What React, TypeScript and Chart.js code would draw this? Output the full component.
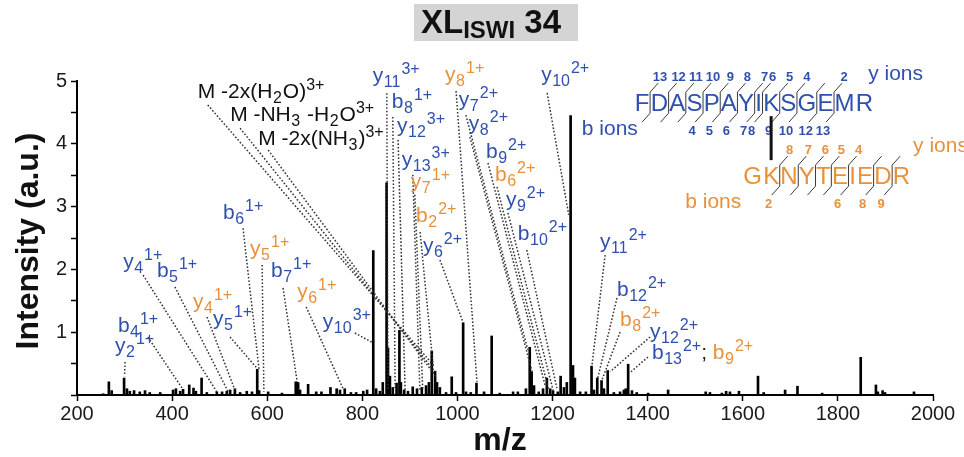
import React, { useEffect, useRef } from "react";
import { Chart, registerables } from "chart.js";

Chart.register(...registerables);

const FONT = "'Liberation Sans', Arial, Helvetica, sans-serif";
const BLUE = "#2f50ae";
const ORANGE = "#e8903a";
const INK = "#111111";

// ---- spectrum data (m/z, intensity a.u.) ----
const mzValues = [
  255, 267, 273, 299, 305, 311, 320, 332, 343, 353, 375, 402, 408, 417, 423, 436, 445, 450, 462, 473,
  494, 505, 515, 522, 532, 543, 557, 568, 579, 583, 602, 631, 660, 665, 669, 686, 703, 714, 733, 746,
  753, 763, 776, 787, 802, 810, 823, 829, 837, 843, 851, 854, 858, 864, 872, 878, 881, 888, 896, 906,
  915, 925, 934, 940, 946, 953, 957, 963, 976, 988, 997, 1012, 1018, 1028, 1040, 1056, 1072, 1089, 1117, 1127,
  1144, 1152, 1156, 1161, 1171, 1180, 1188, 1195, 1201, 1211, 1217, 1224, 1230, 1238, 1243, 1247, 1258, 1270, 1282, 1287,
  1294, 1303, 1308, 1316, 1329, 1342, 1350, 1354, 1359, 1367, 1377, 1401, 1443, 1522, 1531, 1556, 1565, 1573, 1592, 1632,
  1644, 1689, 1715, 1767, 1848, 1880, 1884, 1894, 1899, 1960,
];
const intensities = [
  0.02, 0.21, 0.07, 0.27, 0.1, 0.06, 0.07, 0.05, 0.07, 0.04, 0.04, 0.08, 0.1, 0.06, 0.09, 0.16, 0.11, 0.06, 0.27, 0.04,
  0.05, 0.05, 0.06, 0.08, 0.1, 0.04, 0.06, 0.05, 0.41, 0.07, 0.05, 0.03, 0.21, 0.2, 0.08, 0.17, 0.05, 0.05, 0.12, 0.1,
  0.08, 0.1, 0.04, 0.04, 0.06, 0.08, 2.3, 0.1, 0.06, 0.2, 3.38, 0.75, 0.3, 0.12, 0.19, 1.03, 0.2, 0.08, 0.06, 0.13,
  0.1, 0.12, 0.15, 0.2, 0.7, 0.38, 0.2, 0.12, 0.04, 0.29, 0.04, 1.15, 0.05, 0.04, 0.19, 0.05, 0.94, 0.03, 0.05, 0.05,
  0.1, 0.76, 0.37, 0.15, 0.05, 0.1, 0.27, 0.1, 0.07, 0.05, 0.3, 0.12, 0.2, 4.45, 0.47, 0.27, 0.05, 0.05, 0.46, 0.08,
  0.27, 0.23, 0.1, 0.39, 0.04, 0.05, 0.08, 0.1, 0.49, 0.07, 0.04, 0.03, 0.08, 0.05, 0.04, 0.03, 0.06, 0.05, 0.06, 0.3,
  0.04, 0.08, 0.14, 0.03, 0.6, 0.16, 0.05, 0.07, 0.04, 0.05,
];

const xTickValues = [200, 400, 600, 800, 1000, 1200, 1400, 1600, 1800, 2000];
const yTickValues = [0, 0.5, 1, 1.5, 2, 2.5, 3, 3.5, 4, 4.5, 5];
const yTickLabels = [1, 2, 3, 4, 5];

// ---- peptide sequences ----
const bluePeptide = "FDASPAYIKSGEMR";
const blueMarks = [1, 2, 3, 4, 5, 6, 7, 8, 9, 10, 11, 12];
const blueYIons = [13, 12, 11, 10, 9, 8, 7, 6, 5, 4, 2];
const blueBIons = [
  { n: 4, at: 4 }, { n: 5, at: 5 }, { n: 6, at: 6 }, { n: 7, at: 7 }, { n: 8, at: 8 },
  { n: 9, at: 9 }, { n: 10, at: 10 }, { n: 12, at: 11 }, { n: 13, at: 12 },
];
const orangePeptide = "GKNYTEIEDR";
const orangeMarks = [2, 3, 4, 5, 6, 8, 9];
const orangeYIons = [8, 7, 6, 5, 4];
const orangeBIons = [2, 6, 8, 9];
const crossLinkResidues = [9, 2];
const seqAnchor = [1373, 4.52]; // data coords of blue peptide left/baseline

type Seg = { t: string; k?: "sub" | "sup"; c: string };
const ion = (l: string, sub: string, sup: string, c: string): Seg[] => [
  { t: l, c },
  { t: sub, k: "sub", c },
  { t: sup, k: "sup", c },
];

type Ann = { segs: Seg[]; at: number[]; lead: number[]; to: number[] };
const ionAnnotations: Ann[] = [
  { segs: ion("y", "2", "1+", BLUE), at: [280, 0.685], lead: [10, 10], to: [300, 0.3] },
  { segs: ion("b", "4", "1+", BLUE), at: [286, 1.0], lead: [30, 5], to: [421, 0.11] },
  { segs: ion("y", "4", "1+", BLUE), at: [297, 2.02], lead: [20, 7], to: [494, 0.05] },
  { segs: ion("b", "5", "1+", BLUE), at: [368, 1.88], lead: [18, 10], to: [518, 0.05] },
  { segs: ion("y", "4", "1+", ORANGE), at: [444, 1.385], lead: [14, 9], to: [532, 0.08] },
  { segs: ion("y", "5", "1+", BLUE), at: [486, 1.115], lead: [17, 12], to: [578, 0.43] },
  { segs: ion("b", "6", "1+", BLUE), at: [507, 2.8], lead: [20, 9], to: [583, 0.4] },
  { segs: ion("y", "5", "1+", ORANGE), at: [564, 2.23], lead: [12, 10], to: [593, 0.05] },
  { segs: ion("b", "7", "1+", BLUE), at: [608, 1.88], lead: [12, 11], to: [663, 0.21] },
  { segs: ion("y", "6", "1+", ORANGE), at: [663, 1.545], lead: [9, 9], to: [759, 0.11] },
  { segs: ion("y", "10", "3+", BLUE), at: [717, 1.067], lead: [32, 5], to: [820, 0.84] },
  { segs: ion("y", "11", "3+", BLUE), at: [822, 4.98], lead: [14, 11], to: [854, 0.08] },
  { segs: ion("b", "8", "1+", BLUE), at: [862, 4.57], lead: [1, 9], to: [869, 0.08] },
  { segs: ion("y", "12", "3+", BLUE), at: [873, 4.19], lead: [1, 8], to: [890, 0.08] },
  { segs: ion("y", "13", "3+", BLUE), at: [883, 3.65], lead: [11, 9], to: [921, 0.08] },
  { segs: ion("y", "7", "1+", ORANGE), at: [902, 3.3], lead: [4, 7], to: [927, 0.08] },
  { segs: ion("b", "2", "2+", ORANGE), at: [913, 2.755], lead: [4, 10], to: [949, 0.45] },
  { segs: ion("y", "6", "2+", BLUE), at: [927.5, 2.277], lead: [17, 8], to: [1012, 1.15] },
  { segs: ion("y", "8", "1+", ORANGE), at: [974, 5.0], lead: [11, 10], to: [1041, 0.21] },
  { segs: ion("y", "7", "2+", BLUE), at: [1003, 4.6], lead: [7, 9], to: [1148, 0.72] },
  { segs: ion("y", "8", "2+", BLUE), at: [1024, 4.22], lead: [1, 7], to: [1157, 0.37] },
  { segs: ion("b", "9", "2+", BLUE), at: [1060, 3.774], lead: [2, 5], to: [1184, 0.16] },
  { segs: ion("b", "6", "2+", ORANGE), at: [1079, 3.408], lead: [2, 6], to: [1192, 0.08] },
  { segs: ion("y", "9", "2+", BLUE), at: [1102, 3.01], lead: [2, 7], to: [1201, 0.08] },
  { segs: ion("b", "10", "2+", BLUE), at: [1127, 2.468], lead: [9, 10], to: [1209, 0.11] },
  { segs: ion("y", "10", "2+", BLUE), at: [1176, 5.0], lead: [6, 12], to: [1234, 2.87] },
  { segs: ion("y", "11", "2+", BLUE), at: [1300, 2.34], lead: [5, 7], to: [1283, 0.48] },
  { segs: ion("b", "12", "2+", BLUE), at: [1335.5, 1.576], lead: [0, 2], to: [1295, 0.27] },
  { segs: ion("b", "8", "2+", ORANGE), at: [1342, 1.1], lead: [0, 6], to: [1304, 0.24] },
  { segs: ion("y", "12", "2+", BLUE), at: [1405, 0.908], lead: [0, -1], to: [1321, 0.37] },
  {
    segs: [...ion("b", "13", "2+", BLUE), { t: "; ", c: "#222" }, ...ion("b", "9", "2+", ORANGE)],
    at: [1409, 0.573],
    lead: [-4, -2],
    to: [1365, 0.37],
  },
  {
    segs: [
      { t: "M -2x(H", c: INK }, { t: "2", k: "sub", c: INK }, { t: "O)", c: INK }, { t: "3+", k: "sup", c: INK },
    ],
    at: [454, 4.73], lead: [10, 7], to: [949, 0.48],
  },
  {
    segs: [
      { t: "M -NH", c: INK }, { t: "3", k: "sub", c: INK }, { t: " -H", c: INK }, { t: "2", k: "sub", c: INK },
      { t: "O", c: INK }, { t: "3+", k: "sup", c: INK },
    ],
    at: [522, 4.36], lead: [10, 7], to: [953, 0.37],
  },
  {
    segs: [
      { t: "M -2x(NH", c: INK }, { t: "3", k: "sub", c: INK }, { t: ")", c: INK }, { t: "3+", k: "sup", c: INK },
    ],
    at: [581, 3.98], lead: [10, 5], to: [957, 0.27],
  },
];

function drawSegs(ctx: CanvasRenderingContext2D, segs: Seg[], x0: number, y0: number, size: number) {
  let x = x0;
  const small = Math.round(size * 0.76);
  for (const s of segs) {
    ctx.fillStyle = s.c;
    if (s.k === "sub") {
      ctx.font = `${small}px ${FONT}`;
      ctx.fillText(s.t, x + 0.5, y0 + 5);
      x += ctx.measureText(s.t).width + 1.5;
    } else if (s.k === "sup") {
      ctx.font = `${small}px ${FONT}`;
      ctx.fillText(s.t, x, y0 - 8);
      x += ctx.measureText(s.t).width;
    } else {
      ctx.font = `${size}px ${FONT}`;
      ctx.fillText(s.t, x, y0);
      x += ctx.measureText(s.t).width;
    }
  }
}

function layoutSeq(ctx: CanvasRenderingContext2D, seq: string, x0: number, size: number, gap: number) {
  ctx.font = `${size}px ${FONT}`;
  const xs: number[] = [];
  const ws: number[] = [];
  let x = x0;
  for (const ch of seq) {
    const w = ctx.measureText(ch).width;
    xs.push(x);
    ws.push(w);
    x += w + gap;
  }
  return { xs, ws, end: x - gap, bound: (k: number) => xs[k - 1] + ws[k - 1] + gap / 2 };
}

function drawPeptide(
  ctx: CanvasRenderingContext2D,
  seq: string,
  x0: number,
  base: number,
  color: string,
  marks: number[],
  yIons: number[],
  bIons: { n: number; at: number }[]
) {
  const size = 24;
  const gap = 1.2;
  const L = layoutSeq(ctx, seq, x0, size, gap);
  ctx.fillStyle = color;
  ctx.textAlign = "left";
  ctx.font = `${size}px ${FONT}`;
  for (let i = 0; i < seq.length; i++) ctx.fillText(seq[i], L.xs[i], base);
  ctx.strokeStyle = "#3a3a3a";
  ctx.lineWidth = 1;
  ctx.setLineDash([]);
  for (const m of marks) {
    const bx = L.bound(m);
    ctx.beginPath();
    ctx.moveTo(bx + 8, base - 28);
    ctx.lineTo(bx, base - 19);
    ctx.lineTo(bx, base + 2);
    ctx.lineTo(bx - 8, base + 11);
    ctx.stroke();
  }
  ctx.font = `bold 13px ${FONT}`;
  ctx.fillStyle = color;
  ctx.textAlign = "center";
  for (const y of yIons) {
    const bx = L.bound(seq.length - y);
    ctx.fillText(String(y), bx + 10, base - 30);
  }
  for (const b of bIons) {
    const bx = L.bound(b.at);
    ctx.fillText(String(b.n), bx - 11, base + 24);
  }
  ctx.textAlign = "left";
  return L;
}

const annotationPlugin = {
  id: "msAnnotations",
  afterDatasetsDraw(chart: any) {
    const { ctx, scales } = chart;
    const xs = scales.x;
    const ys = scales.y;
    const ca = chart.chartArea;
    ctx.save();
    ctx.textBaseline = "alphabetic";
    ctx.textAlign = "left";

    // leader lines
    ctx.strokeStyle = "#333";
    ctx.lineWidth = 1.5;
    ctx.setLineDash([1.6, 1.9]);
    for (const a of ionAnnotations) {
      const lx = xs.getPixelForValue(a.at[0]);
      const ly = ys.getPixelForValue(a.at[1]);
      ctx.beginPath();
      ctx.moveTo(lx + a.lead[0], ly + a.lead[1]);
      ctx.lineTo(xs.getPixelForValue(a.to[0]), ys.getPixelForValue(a.to[1]));
      ctx.stroke();
    }
    ctx.setLineDash([]);
    for (const a of ionAnnotations) {
      drawSegs(ctx, a.segs, xs.getPixelForValue(a.at[0]), ys.getPixelForValue(a.at[1]), 21);
    }

    // sequence diagram
    const sx = xs.getPixelForValue(seqAnchor[0]);
    const sy = ys.getPixelForValue(seqAnchor[1]);
    const B = drawPeptide(ctx, bluePeptide, sx, sy, BLUE, blueMarks, blueYIons, blueBIons);
    const kBlue = crossLinkResidues[0] - 1;
    const kCenter = B.xs[kBlue] + B.ws[kBlue] / 2;
    const tmp = layoutSeq(ctx, orangePeptide, 0, 24, 1.2);
    const kO = crossLinkResidues[1] - 1;
    const ox = kCenter - (tmp.xs[kO] + tmp.ws[kO] / 2);
    const oy = sy + 73;
    const O = drawPeptide(
      ctx, orangePeptide, ox, oy, ORANGE, orangeMarks, orangeYIons,
      orangeBIons.map((n) => ({ n, at: n }))
    );
    ctx.strokeStyle = "#111";
    ctx.lineWidth = 3;
    ctx.beginPath();
    ctx.moveTo(kCenter, sy + 5);
    ctx.lineTo(kCenter, oy - 24);
    ctx.stroke();

    ctx.font = `21px ${FONT}`;
    ctx.fillStyle = BLUE;
    ctx.textAlign = "left";
    ctx.fillText("y ions", B.end - 5, sy - 31);
    ctx.textAlign = "right";
    ctx.fillText("b ions", sx + 3, sy + 24);
    ctx.fillStyle = ORANGE;
    ctx.textAlign = "left";
    ctx.fillText("y ions", O.end + 3, oy - 32);
    ctx.textAlign = "right";
    ctx.fillText("b ions", ox - 2, oy + 24);

    // title
    ctx.fillStyle = "#d4d4d4";
    ctx.fillRect(414, 4, 164, 37);
    ctx.fillStyle = INK;
    ctx.textAlign = "left";
    let tx = 421;
    ctx.font = `bold 33px ${FONT}`;
    ctx.fillText("XL", tx, 33);
    tx += ctx.measureText("XL").width;
    ctx.font = `bold 24px ${FONT}`;
    ctx.fillText("ISWI", tx, 38);
    tx += ctx.measureText("ISWI").width;
    ctx.font = `bold 33px ${FONT}`;
    ctx.fillText(" 34", tx, 33);

    // axis titles
    ctx.font = `bold 32px ${FONT}`;
    ctx.fillStyle = INK;
    ctx.textAlign = "center";
    ctx.fillText("m/z", (ca.left + ca.right) / 2 - 5, 450);
    ctx.save();
    ctx.translate(38, (ca.top + ca.bottom) / 2 + 3);
    ctx.rotate(-Math.PI / 2);
    ctx.fillText("Intensity (a.u.)", 0, 0);
    ctx.restore();

    ctx.restore();
  },
};

export default function App() {
  const ref = useRef<HTMLCanvasElement>(null);
  useEffect(() => {
    document.body.style.margin = "0";
    const chart = new Chart(ref.current as HTMLCanvasElement, {
      type: "bar",
      data: {
        datasets: [
          {
            data: mzValues.map((x, i) => ({ x, y: intensities[i] })),
            backgroundColor: "#000",
            borderWidth: 0,
            barThickness: 2,
          } as any,
        ],
      },
      options: {
        animation: false,
        responsive: false,
        devicePixelRatio: 1,
        layout: { padding: { top: 81, right: 31, left: 0, bottom: 0 } },
        plugins: { legend: { display: false }, tooltip: { enabled: false }, title: { display: false } },
        scales: {
          x: {
            type: "linear",
            min: 200,
            max: 2000,
            offset: false,
            afterFit: (s: any) => {
              s.height = 62;
            },
            afterBuildTicks: (s: any) => {
              s.ticks = xTickValues.map((v) => ({ value: v }));
            },
            ticks: {
              font: { family: FONT, size: 20 },
              color: "#1a1a1a",
              padding: 1,
              maxRotation: 0,
              autoSkip: false,
              callback: (v: any) => String(v),
            },
            grid: {
              display: true,
              drawOnChartArea: false,
              drawTicks: true,
              tickLength: 6,
              tickColor: "#000",
              tickWidth: 1.5,
              offset: false,
            },
            border: { display: true, color: "#000", width: 2 },
          } as any,
          y: {
            type: "linear",
            min: 0,
            max: 5,
            afterFit: (s: any) => {
              s.width = 77;
            },
            afterBuildTicks: (s: any) => {
              s.ticks = yTickValues.map((v) => ({ value: v }));
            },
            ticks: {
              font: { family: FONT, size: 20 },
              color: "#1a1a1a",
              padding: 4,
              autoSkip: false,
              callback: (v: any) => (yTickLabels.includes(Number(v)) ? String(v) : ""),
            },
            grid: {
              display: true,
              drawOnChartArea: false,
              drawTicks: true,
              tickLength: 6,
              tickColor: "#000",
              tickWidth: 1.5,
            },
            border: { display: true, color: "#000", width: 2 },
          } as any,
        },
      },
      plugins: [annotationPlugin],
    });
    return () => chart.destroy();
  }, []);
  return <canvas ref={ref} width={964} height={457} style={{ display: "block" }} />;
}
